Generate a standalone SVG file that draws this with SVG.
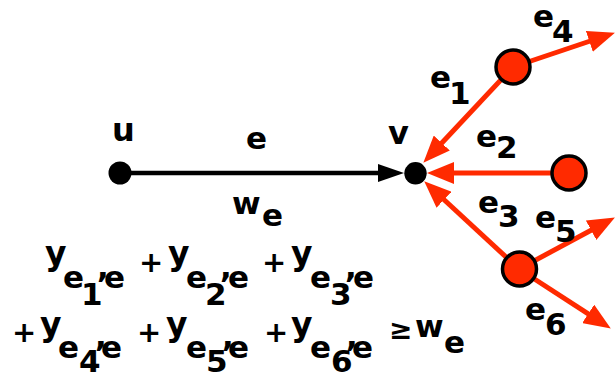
<svg xmlns="http://www.w3.org/2000/svg" width="615" height="373" viewBox="0 0 615 373">
<style>
text{font-family:"DejaVu Sans","Liberation Sans",Arial,sans-serif;font-weight:bold;fill:#000}
.m{font-size:32px}
.w{font-size:31px}
.yy{font-size:33px}
.s{font-size:31px}
.p{font-size:29px}
.g{font-size:28px}
.red{stroke:#ff2a00;stroke-width:5;fill:none}
.blk{stroke:#000;stroke-width:4.5;fill:none}
.rn{fill:#ff2a00;stroke:#000;stroke-width:3.5}
.bn{fill:#000}
</style>
<defs>
<marker id="ah-r" markerUnits="userSpaceOnUse" markerWidth="28" markerHeight="22" refX="1" refY="11" orient="auto"><path d="M0,0 L27,11 L0,22 z" fill="#ff2a00"/></marker>
<marker id="ah-b" markerUnits="userSpaceOnUse" markerWidth="27" markerHeight="18" refX="1" refY="9" orient="auto"><path d="M0,0 L26,9 L0,18 z" fill="#000"/></marker>
</defs>
<g id="connectors">
<line class="blk" x1="120" y1="173" x2="379" y2="173" marker-end="url(#ah-b)"/>
<line class="red" x1="513" y1="67" x2="441.1" y2="143.8" marker-end="url(#ah-r)"/>
<line class="red" x1="569" y1="173" x2="453" y2="173" marker-end="url(#ah-r)"/>
<line class="red" x1="519" y1="269" x2="443.3" y2="199" marker-end="url(#ah-r)"/>
<line class="red" x1="513" y1="67" x2="590.3" y2="41" marker-end="url(#ah-r)"/>
<line class="red" x1="519" y1="269" x2="592" y2="229.8" marker-end="url(#ah-r)"/>
<line class="red" x1="519" y1="269" x2="589" y2="314.4" marker-end="url(#ah-r)"/>
<text class="s" x="246" y="149">e</text>
<text class="w" x="232" y="214">w</text><text class="s" x="262" y="226">e</text>
<text class="s" x="430" y="88">e</text><text class="s" x="449" y="104">1</text>
<text class="s" x="476" y="147">e</text><text class="s" x="496" y="158">2</text>
<text class="s" x="478" y="213">e</text><text class="s" x="498" y="227">3</text>
<text class="s" x="533" y="27">e</text><text class="s" x="552" y="42">4</text>
<text class="s" x="535" y="228">e</text><text class="s" x="555" y="242">5</text>
<text class="s" x="525" y="320">e</text><text class="s" x="545" y="335">6</text>
</g>
<g id="node-u"><circle class="bn" cx="120" cy="173" r="11.5"/><text class="m" x="112" y="141">u</text></g>
<g id="node-v"><circle class="bn" cx="415.5" cy="173.3" r="11.2"/><text class="m" x="388" y="144">v</text></g>
<g id="node-a"><circle class="rn" cx="513" cy="67" r="17"/></g>
<g id="node-b"><circle class="rn" cx="569" cy="173" r="17"/></g>
<g id="node-c"><circle class="rn" cx="519.5" cy="269" r="17"/></g>
<g id="formula">
<text class="yy" x="45" y="265">y</text><text class="s" x="63" y="288">e</text><text class="s" x="81" y="305">1</text><text class="s" x="97" y="278">,</text><text class="s" x="104" y="288">e</text>
<text class="p" x="139" y="272">+</text>
<text class="yy" x="168" y="265">y</text><text class="s" x="186" y="288">e</text><text class="s" x="205" y="305">2</text><text class="s" x="220" y="278">,</text><text class="s" x="228" y="288">e</text>
<text class="p" x="262" y="272">+</text>
<text class="yy" x="291" y="265">y</text><text class="s" x="310" y="288">e</text><text class="s" x="330" y="305">3</text><text class="s" x="345" y="278">,</text><text class="s" x="353" y="288">e</text>
<text class="p" x="12" y="342">+</text>
<text class="yy" x="40" y="336">y</text><text class="s" x="58" y="358">e</text><text class="s" x="79" y="372">4</text><text class="s" x="95" y="347">,</text><text class="s" x="101" y="358">e</text>
<text class="p" x="137" y="342">+</text>
<text class="yy" x="166" y="336">y</text><text class="s" x="186" y="358">e</text><text class="s" x="206" y="372">5</text><text class="s" x="222" y="347">,</text><text class="s" x="228" y="358">e</text>
<text class="p" x="264" y="342">+</text>
<text class="yy" x="291" y="336">y</text><text class="s" x="310" y="358">e</text><text class="s" x="331" y="372">6</text><text class="s" x="346" y="347">,</text><text class="s" x="352" y="358">e</text>
<text class="g" x="389" y="339">≥</text>
<text class="w" x="415" y="337">w</text><text class="s" x="444" y="353">e</text>
</g>
</svg>
